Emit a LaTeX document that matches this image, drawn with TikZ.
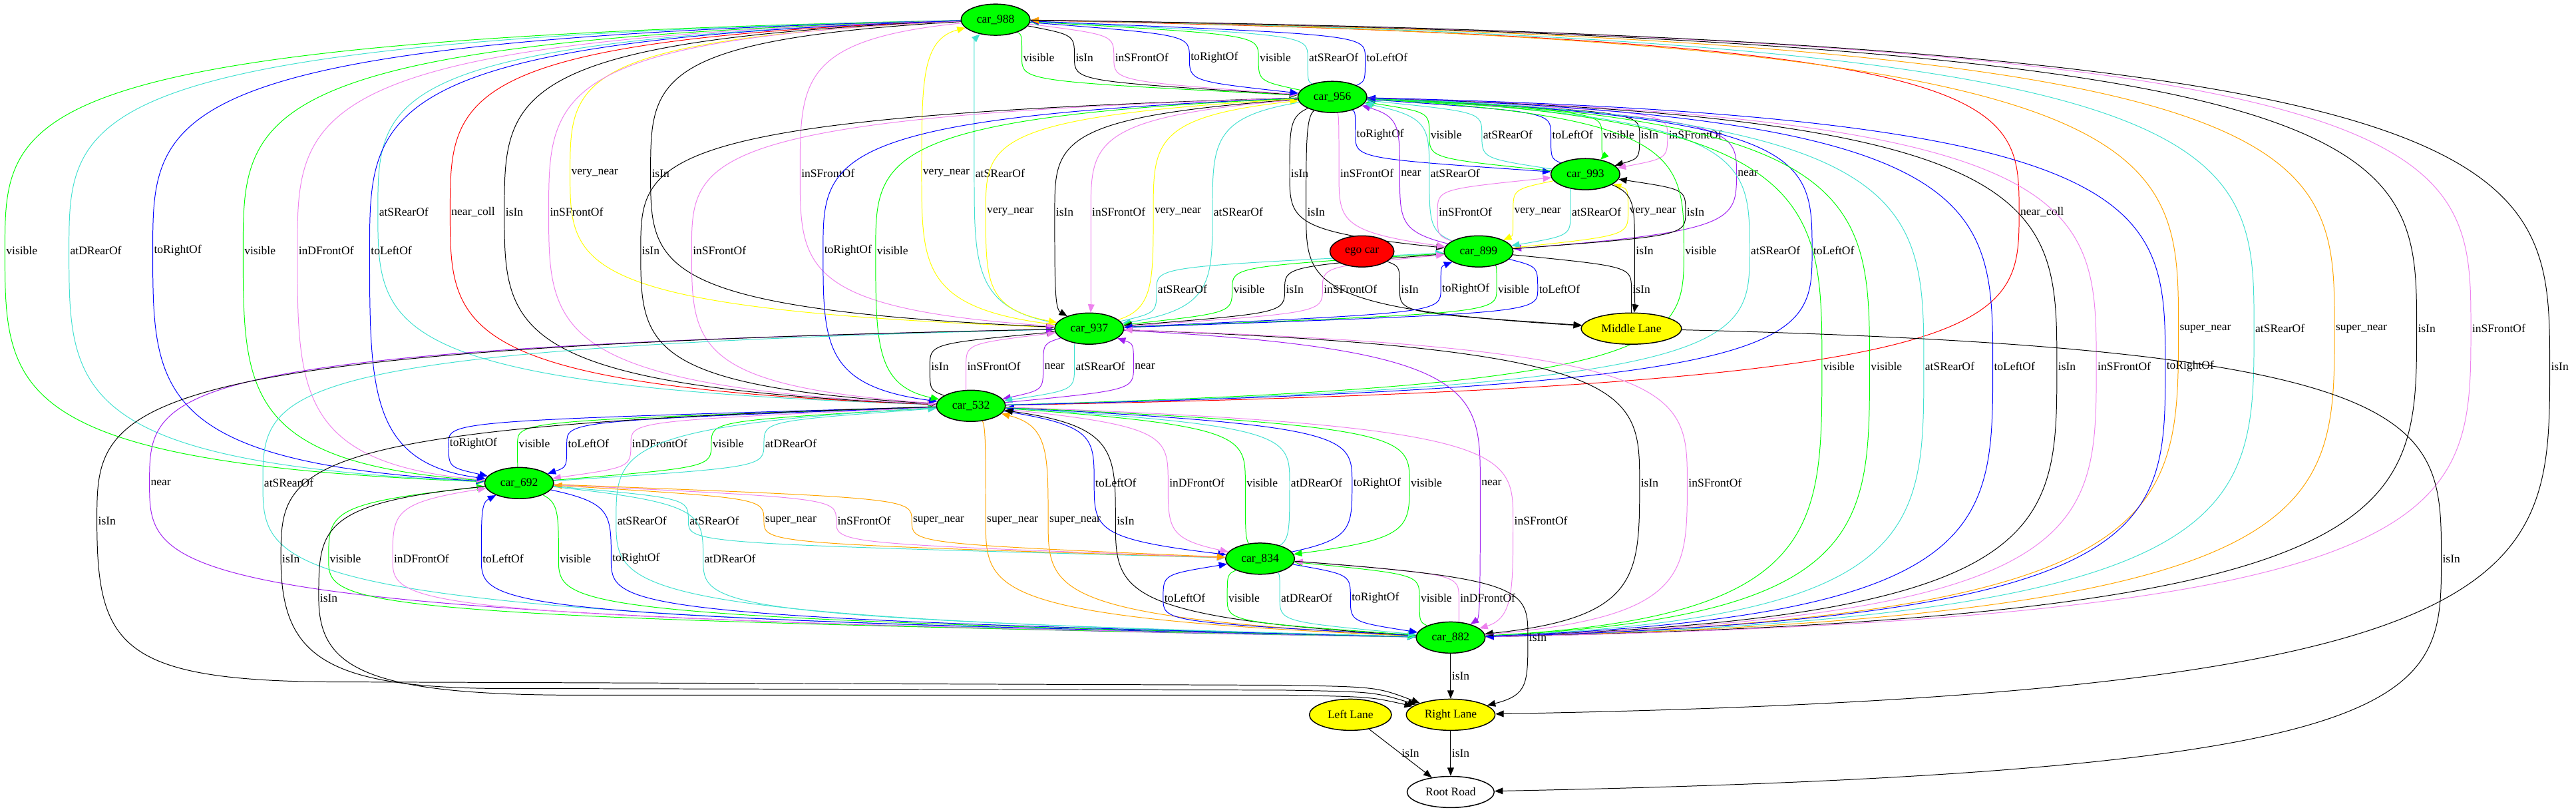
\documentclass[tikz,border=0pt]{standalone}
\usepackage{fontspec}
\setmainfont{Liberation Serif}
\usetikzlibrary{arrows.meta, shapes.geometric, backgrounds}

\definecolor{gvgreen}{HTML}{00FF00}
\definecolor{gvyellow}{HTML}{FFFF00}
\definecolor{gvred}{HTML}{FF0000}
\definecolor{gvblue}{HTML}{0000FF}
\definecolor{gvturq}{HTML}{40E0D0}
\definecolor{gvviolet}{HTML}{EE82EE}
\definecolor{gvpurple}{HTML}{A020F0}
\definecolor{gvorange}{HTML}{FFA500}

% relation from #2 to #3, passing by its label #4 at (#5,#6)
\newcommand{\relation}[6]{%
  \path (#2.center); \pgfgetlastxy{\eSx}{\eSy}
  \path (#3.center); \pgfgetlastxy{\eTx}{\eTy}
  \pgfmathsetmacro{\eWy}{-(#6)}
  \pgfmathsetmacro{\eD}{(\eWy)-(\eSy)}
  \pgfmathsetmacro{\eCa}{(\eSy)+min(0.4*abs(\eD),12)*(\eD)/abs(\eD)}
  \pgfmathsetmacro{\eCb}{(\eWy)-0.6*(\eD)}
  \pgfmathsetmacro{\eE}{(\eTy)-(\eWy)}
  \pgfmathsetmacro{\eCc}{(\eWy)+0.6*(\eE)}
  \pgfmathsetmacro{\eCd}{(\eTy)-min(0.4*abs(\eE),12)*(\eE)/abs(\eE)}
  \draw [arrow, #1] (#2) .. controls (#5pt,\eCa pt) and (#5pt,\eCb pt) .. (#5pt,\eWy pt)
    node [lbl] {#4} .. controls (#5pt,\eCc pt) and (#5pt,\eCd pt) .. (#3);
}

\begin{document}
\begin{tikzpicture}[
        x=1pt, y=-1pt,
        car/.style={ellipse, draw, line width=0.6pt, fill=gvgreen, minimum width=42pt, minimum height=19pt, inner sep=1pt, font=\fontsize{7.1}{8}\selectfont},
        lane/.style={car, fill=gvyellow},
        arrow/.style={-{Triangle[length=5pt, width=4pt]}, line width=0.4pt},
        lbl/.style={anchor=west, inner sep=0.6pt, text=black, font=\fontsize{7.1}{8}\selectfont}
    ]
        \useasboundingbox (0,0) rectangle (1568,494);

        % Nodes
        \node (car988) [car] at (606,12) {car\_988};
        \node (car956) [car] at (811,59) {car\_956};
        \node (car993) [car] at (965,106) {car\_993};
        \node (ego) [car, fill=gvred, minimum width=39pt] at (829,153) {ego car};
        \node (car899) [car] at (900,153) {car\_899};
        \node (middle) [lane, minimum width=61pt] at (993,200) {Middle Lane};
        \node (car937) [car] at (663,200) {car\_937};
        \node (car532) [car] at (591,247) {car\_532};
        \node (car692) [car] at (316,294) {car\_692};
        \node (car834) [car] at (767,340) {car\_834};
        \node (car882) [car] at (883,388) {car\_882};
        \node (left) [lane, minimum width=50pt] at (822,435) {Left Lane};
        \node (right) [lane, minimum width=54pt] at (883,435) {Right Lane};
        \node (root) [car, fill=white, minimum width=53pt] at (883,482) {Root Road};

        \begin{scope}[on background layer]
        % car_988 and car_956
        \relation{gvgreen}{car988}{car956}{visible}{622}{35}
        \relation{black}{car988}{car956}{isIn}{654}{35}
        \relation{gvviolet}{car988}{car956}{inSFrontOf}{678}{35}
        \relation{gvblue}{car988}{car956}{toRightOf}{724}{35}
        \relation{gvgreen}{car956}{car988}{visible}{766}{35}
        \relation{gvturq}{car956}{car988}{atSRearOf}{796}{35}
        \relation{gvblue}{car956}{car988}{toLeftOf}{831}{35}

        % car_956 and car_993
        \relation{gvblue}{car956}{car993}{toRightOf}{825}{82}
        \relation{gvgreen}{car993}{car956}{visible}{870}{82}
        \relation{gvturq}{car993}{car956}{atSRearOf}{902}{82}
        \relation{gvblue}{car993}{car956}{toLeftOf}{944}{82}
        \relation{gvgreen}{car956}{car993}{visible}{975}{82}
        \relation{black}{car956}{car993}{isIn}{998}{82}
        \relation{gvviolet}{car956}{car993}{inSFrontOf}{1015}{82}

        % third row of labels
        \relation{gvyellow}{car988}{car937}{very\_near}{347}{105.5}
        \relation{black}{car988}{car937}{isIn}{396}{105.5}
        \relation{gvviolet}{car988}{car937}{inSFrontOf}{487}{105.5}
        \relation{gvyellow}{car937}{car988}{very\_near}{561}{105.5}
        \relation{gvturq}{car937}{car988}{atSRearOf}{593}{105.5}
        \relation{black}{car956}{car899}{isIn}{785}{105.5}
        \relation{gvviolet}{car956}{car899}{inSFrontOf}{815}{105.5}
        \relation{gvpurple}{car899}{car956}{near}{852}{105.5}
        \relation{gvturq}{car899}{car956}{atSRearOf}{870}{105.5}
        \relation{gvpurple}{car956}{car899}{near}{1057}{105.5}

        \relation{gvturq}{car988}{car532}{atSRearOf}{230}{129}
        \relation{gvred}{car988}{car532}{near\_coll}{274}{129}
        \relation{black}{car988}{car532}{isIn}{307}{129}
        \relation{gvviolet}{car988}{car532}{inSFrontOf}{334}{129}
        \relation{gvyellow}{car956}{car937}{very\_near}{600}{129}
        \relation{black}{car956}{car937}{isIn}{642}{129}
        \relation{gvviolet}{car956}{car937}{inSFrontOf}{664}{129}
        \relation{gvyellow}{car937}{car956}{very\_near}{702}{129}
        \relation{gvturq}{car956}{car937}{atSRearOf}{738}{129}
        \relation{black}{car956}{middle}{isIn}{795}{129}
        \relation{gvviolet}{car899}{car993}{inSFrontOf}{875}{129}
        \relation{gvyellow}{car993}{car899}{very\_near}{921}{129}
        \relation{gvturq}{car993}{car899}{atSRearOf}{956}{129}
        \relation{gvyellow}{car899}{car993}{very\_near}{991}{129}
        \relation{black}{car899}{car993}{isIn}{1026}{129}
        \relation{gvred}{car532}{car988}{near\_coll}{1229}{129}

        \relation{gvgreen}{car988}{car692}{visible}{3}{152.5}
        \relation{gvturq}{car988}{car692}{atDRearOf}{42}{152.5}
        \relation{gvblue}{car988}{car692}{toRightOf}{93}{152.5}
        \relation{gvgreen}{car988}{car692}{visible}{148}{152.5}
        \relation{gvviolet}{car988}{car692}{inDFrontOf}{181}{152.5}
        \relation{gvblue}{car988}{car692}{toLeftOf}{225}{152.5}
        \relation{black}{car956}{car532}{isIn}{390}{152.5}
        \relation{gvviolet}{car956}{car532}{inSFrontOf}{421}{152.5}
        \relation{gvblue}{car956}{car532}{toRightOf}{501}{152.5}
        \relation{gvgreen}{car956}{car532}{visible}{533}{152.5}
        \relation{black}{car993}{middle}{isIn}{995}{152.5}
        \relation{gvgreen}{car532}{car956}{visible}{1025}{152.5}
        \relation{gvturq}{car532}{car956}{atSRearOf}{1065}{152.5}
        \relation{gvblue}{car532}{car956}{toLeftOf}{1103}{152.5}

        % car_899, ego car and car_937
        \relation{gvturq}{car937}{car899}{atSRearOf}{704}{176}
        \relation{gvgreen}{car899}{car937}{visible}{750}{176}
        \relation{black}{car899}{car937}{isIn}{782}{176}
        \relation{gvviolet}{car937}{car899}{inSFrontOf}{805}{176}
        \relation{black}{ego}{middle}{isIn}{852}{176}
        \relation{gvblue}{car937}{car899}{toRightOf}{877}{176}
        \relation{gvgreen}{car899}{car937}{visible}{911}{176}
        \relation{gvblue}{car899}{car937}{toLeftOf}{936}{176}
        \relation{black}{car899}{middle}{isIn}{993}{176}

        \relation{gvorange}{car988}{car882}{super\_near}{1326}{200}
        \relation{gvturq}{car988}{car882}{atSRearOf}{1372}{200}
        \relation{gvorange}{car882}{car988}{super\_near}{1421}{200}
        \relation{black}{car988}{car882}{isIn}{1471}{200}
        \relation{gvviolet}{car988}{car882}{inSFrontOf}{1504}{200}

        \relation{black}{car532}{car937}{isIn}{566}{223}
        \relation{gvviolet}{car532}{car937}{inSFrontOf}{588}{223}
        \relation{gvpurple}{car937}{car532}{near}{635}{223}
        \relation{gvturq}{car937}{car532}{atSRearOf}{654}{223}
        \relation{gvpurple}{car532}{car937}{near}{690}{223}
        \relation{gvgreen}{car956}{car882}{visible}{1109}{223}
        \relation{gvgreen}{car882}{car956}{visible}{1138}{223}
        \relation{gvturq}{car956}{car882}{atSRearOf}{1171}{223}
        \relation{gvblue}{car882}{car956}{toLeftOf}{1213}{223}
        \relation{black}{car956}{car882}{isIn}{1252}{223}
        \relation{gvviolet}{car956}{car882}{inSFrontOf}{1276}{223}
        \relation{gvblue}{car956}{car882}{toRightOf}{1318}{223}
        \relation{black}{car988}{right}{isIn}{1552}{223}

        % car_532 and car_692
        \relation{gvblue}{car532}{car692}{toRightOf}{273}{270}
        \relation{gvgreen}{car532}{car692}{visible}{315}{270}
        \relation{gvblue}{car532}{car692}{toLeftOf}{345}{270}
        \relation{gvviolet}{car532}{car692}{inDFrontOf}{384}{270}
        \relation{gvgreen}{car692}{car532}{visible}{433}{270}
        \relation{gvturq}{car692}{car532}{atDRearOf}{465}{270}

        \relation{gvpurple}{car882}{car937}{near}{91}{294}
        \relation{gvturq}{car937}{car882}{atSRearOf}{160}{294}
        \relation{gvblue}{car532}{car834}{toLeftOf}{666}{294}
        \relation{gvviolet}{car532}{car834}{inDFrontOf}{711}{294}
        \relation{gvgreen}{car834}{car532}{visible}{758}{294}
        \relation{gvturq}{car834}{car532}{atDRearOf}{785}{294}
        \relation{gvblue}{car834}{car532}{toRightOf}{823}{294}
        \relation{gvgreen}{car532}{car834}{visible}{858}{294}
        \relation{gvpurple}{car937}{car882}{near}{901}{294}
        \relation{black}{car937}{car882}{isIn}{998}{294}
        \relation{gvviolet}{car882}{car937}{inSFrontOf}{1027}{294}

        \relation{gvturq}{car532}{car882}{atSRearOf}{375}{317}
        \relation{gvturq}{car692}{car834}{atSRearOf}{419}{317}
        \relation{gvorange}{car834}{car692}{super\_near}{465}{317}
        \relation{gvviolet}{car692}{car834}{inSFrontOf}{509}{317}
        \relation{gvorange}{car692}{car834}{super\_near}{555}{317}
        \relation{gvorange}{car532}{car882}{super\_near}{600}{317}
        \relation{gvorange}{car882}{car532}{super\_near}{638}{317}
        \relation{black}{car882}{car532}{isIn}{679}{317}
        \relation{gvviolet}{car532}{car882}{inSFrontOf}{921}{317}

        % car_692, car_834 and car_882
        \relation{gvgreen}{car882}{car692}{visible}{200}{340}
        \relation{gvviolet}{car882}{car692}{inDFrontOf}{239}{340}
        \relation{gvblue}{car882}{car692}{toLeftOf}{293}{340}
        \relation{gvgreen}{car692}{car882}{visible}{340}{340}
        \relation{gvblue}{car692}{car882}{toRightOf}{372}{340}
        \relation{gvturq}{car692}{car882}{atDRearOf}{428}{340}
        \relation{black}{middle}{root}{isIn}{1486}{340}

        \relation{gvblue}{car882}{car834}{toLeftOf}{708}{364}
        \relation{gvgreen}{car834}{car882}{visible}{747}{364}
        \relation{gvturq}{car834}{car882}{atDRearOf}{779}{364}
        \relation{gvblue}{car834}{car882}{toRightOf}{822}{364}
        \relation{gvgreen}{car882}{car834}{visible}{864}{364}
        \relation{gvviolet}{car882}{car834}{inDFrontOf}{888}{364}

        % Lanes and road
        \draw [arrow] (car937) .. controls (59,212) and (59,247) .. (59,317) node [lbl] {isIn}
            .. controls (59,392) and (72,414) .. (200,415) -- (780,417) .. controls (838,418) .. (right);
        \draw [arrow] (car532) .. controls (171,259) and (171,284) .. (171,340) node [lbl] {isIn}
            .. controls (171,398) and (196,418) .. (300,419) -- (780,420) .. controls (836,421) .. (right);
        \draw [arrow] (car692) .. controls (194,306) and (194,322) .. (194,364) node [lbl] {isIn}
            .. controls (194,405) and (220,422) .. (340,423) -- (780,423) .. controls (834,424) .. (right);
        \relation{black}{car834}{right}{isIn}{930}{388}
        \draw [arrow] (car882) -- node [lbl] {isIn} (right);
        \draw [arrow] (left) -- node [lbl] {isIn} (root);
        \draw [arrow] (right) -- node [lbl] {isIn} (root);
        \end{scope}
    \end{tikzpicture}
\end{document}
